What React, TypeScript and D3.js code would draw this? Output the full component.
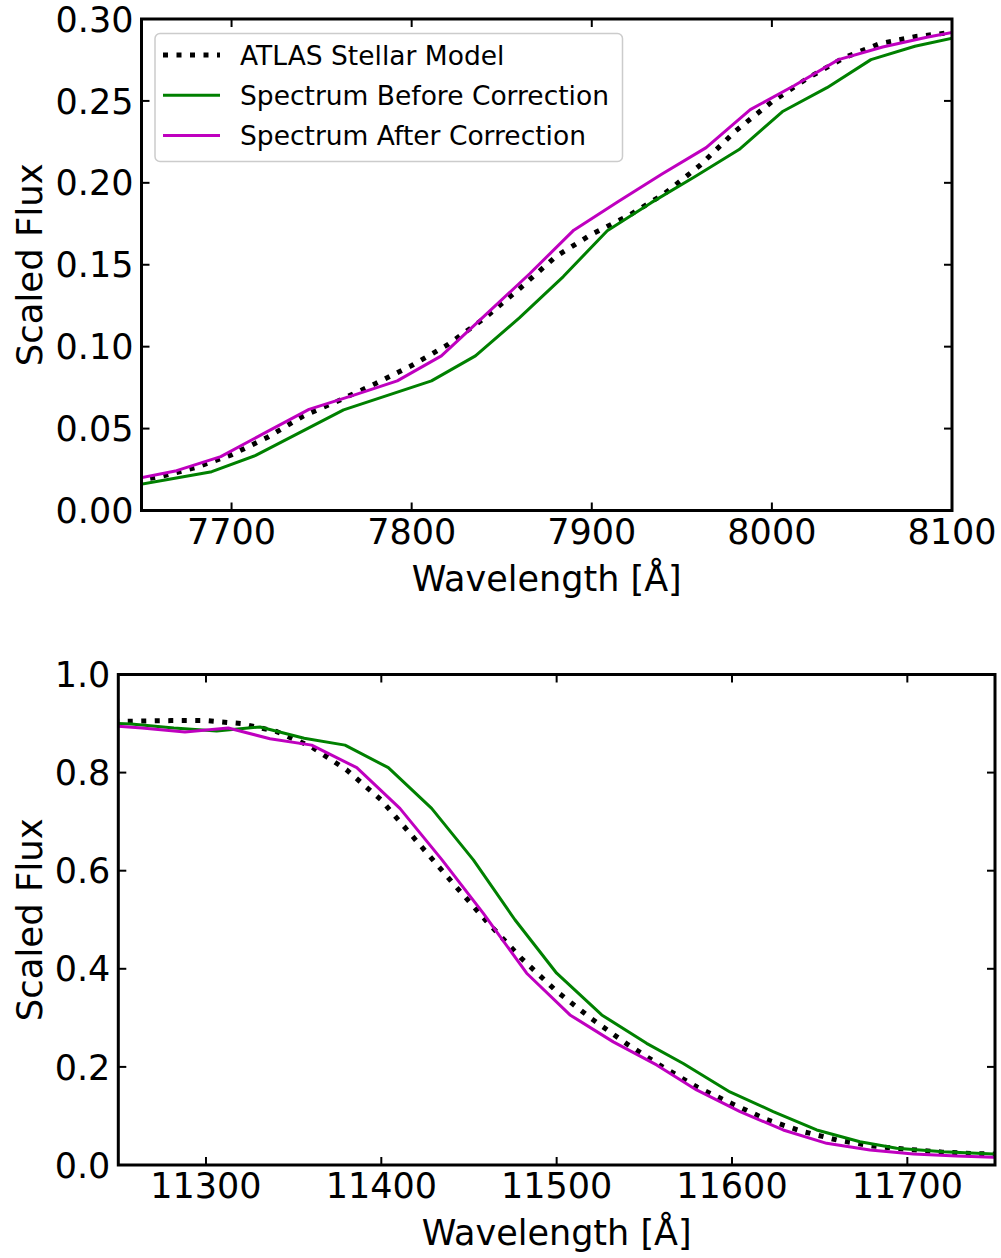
import React from "react";
import * as d3 from "d3";

// ---------- Top panel data ----------
const topModelWl = [7640, 7660, 7680, 7700, 7720, 7740, 7760, 7780, 7800, 7820, 7840, 7860, 7880, 7900, 7920, 7940, 7960, 7980, 8000, 8020, 8040, 8060, 8080, 8100, 8110];
const topModelFlux = [0.0170, 0.0205, 0.0262, 0.0340, 0.0447, 0.0578, 0.0673, 0.0775, 0.0885, 0.1012, 0.1170, 0.1355, 0.1550, 0.1687, 0.1797, 0.1931, 0.2106, 0.2318, 0.2495, 0.2640, 0.2763, 0.2850, 0.2893, 0.2918, 0.2925];

const topBeforeWl = [7640.2, 7664.6, 7689.0, 7713.4, 7737.8, 7762.2, 7786.6, 7811.0, 7835.4, 7859.8, 7884.2, 7908.6, 7933.0, 7957.4, 7981.8, 8006.2, 8030.6, 8055.0, 8079.4, 8103.8];
const topBeforeFlux = [0.0142, 0.0189, 0.0237, 0.0336, 0.0475, 0.0614, 0.0703, 0.0791, 0.0944, 0.1176, 0.1428, 0.1708, 0.1879, 0.2039, 0.2203, 0.2437, 0.2581, 0.2752, 0.2834, 0.2891];

const topAfterWl = [7645.0, 7669.5, 7694.0, 7718.5, 7743.0, 7767.5, 7792.0, 7816.5, 7841.0, 7865.5, 7890.0, 7914.5, 7939.0, 7963.5, 7988.0, 8012.5, 8037.0, 8061.5, 8086.0, 8110.5];
const topAfterFlux = [0.0189, 0.0243, 0.0329, 0.0474, 0.0617, 0.0703, 0.0791, 0.0944, 0.1194, 0.1445, 0.1711, 0.1885, 0.2054, 0.2215, 0.2447, 0.2594, 0.2752, 0.2829, 0.2889, 0.2939];

const topXTicks = [7700, 7800, 7900, 8000, 8100];
const topYTicks = [0, 0.05, 0.1, 0.15, 0.2, 0.25, 0.3];

// ---------- Bottom panel data ----------
const botModelWl = [11240, 11260, 11280, 11300, 11320, 11340, 11360, 11380, 11400, 11420, 11440, 11460, 11480, 11500, 11520, 11540, 11560, 11580, 11600, 11620, 11640, 11660, 11680, 11700, 11720, 11740, 11760];
const botModelFlux = [0.904, 0.905, 0.906, 0.906, 0.900, 0.884, 0.853, 0.806, 0.744, 0.661, 0.578, 0.497, 0.421, 0.354, 0.298, 0.247, 0.201, 0.159, 0.125, 0.0923, 0.0685, 0.0508, 0.0389, 0.0319, 0.0262, 0.0231, 0.021];

const botBeforeWl = [11232.7, 11257.3, 11281.7, 11306.1, 11330.8, 11356.0, 11379.3, 11404.0, 11428.7, 11452.5, 11476.2, 11500.0, 11525.7, 11551.3, 11572.2, 11598.8, 11623.5, 11648.3, 11673.0, 11693.9, 11720.5, 11749.0, 11773.6];
const botBeforeFlux = [0.902, 0.899, 0.891, 0.885, 0.893, 0.870, 0.856, 0.810, 0.727, 0.622, 0.500, 0.391, 0.306, 0.248, 0.207, 0.149, 0.109, 0.0714, 0.0475, 0.034, 0.027, 0.0224, 0.020];

const botAfterWl = [11239.0, 11263.5, 11288.0, 11312.7, 11336.5, 11360.3, 11386.0, 11410.6, 11434.4, 11458.2, 11482.9, 11507.6, 11532.3, 11557.0, 11579.8, 11604.6, 11629.2, 11654.0, 11678.7, 11703.4, 11728.1, 11749.0, 11773.5];
const botAfterFlux = [0.897, 0.891, 0.883, 0.891, 0.869, 0.856, 0.810, 0.727, 0.623, 0.513, 0.391, 0.306, 0.251, 0.204, 0.153, 0.109, 0.0714, 0.0442, 0.0306, 0.0224, 0.0183, 0.0157, 0.014];

const botXTicks = [11300, 11400, 11500, 11600, 11700];
const botYTicks = [0, 0.2, 0.4, 0.6, 0.8, 1.0];

const legendLabels = ["ATLAS Stellar Model", "Spectrum Before Correction", "Spectrum After Correction"];

const FONT = "DejaVu Sans, sans-serif";
const GREEN = "#008000";
const MAGENTA = "#bf00bf";

type Series = { wl: number[]; flux: number[]; color: string; width: number; dash?: string };

function Panel(props: {
  id: string;
  left: number; right: number; top: number; bottom: number;
  xDomain: [number, number]; yDomain: [number, number];
  xTicks: number[]; yTicks: number[]; yFmt: string;
  series: Series[];
  legend?: boolean;
}) {
  const { id, left, right, top, bottom, xDomain, yDomain, xTicks, yTicks, yFmt, series, legend } = props;
  const x = d3.scaleLinear().domain(xDomain).range([left, right]);
  const y = d3.scaleLinear().domain(yDomain).range([bottom, top]);
  const fmtY = d3.format(yFmt);
  const tickLen = 8;
  const fs = 35;
  return (
    <g>
      <defs>
        <clipPath id={id}>
          <rect x={left} y={top} width={right - left} height={bottom - top} />
        </clipPath>
      </defs>
      <g clipPath={`url(#${id})`}>
        {series.map((s, i) => {
          const pts: [number, number][] = s.wl.map((w, j) => [w, s.flux[j]]);
          const line = d3.line<[number, number]>().x(d => x(d[0])).y(d => y(d[1]));
          return (
            <path key={i} d={line(pts) || ""} fill="none" stroke={s.color} strokeWidth={s.width}
              strokeDasharray={s.dash} strokeLinejoin="round" />
          );
        })}
      </g>
      {xTicks.map(t => (
        <g key={"xt" + t}>
          <line x1={x(t)} x2={x(t)} y1={bottom} y2={bottom - tickLen} stroke="#000" strokeWidth={2} />
          <line x1={x(t)} x2={x(t)} y1={top} y2={top + tickLen} stroke="#000" strokeWidth={2} />
          <text x={x(t)} y={bottom + 33} textAnchor="middle" fontFamily={FONT} fontSize={fs}>{t}</text>
        </g>
      ))}
      {yTicks.map(t => (
        <g key={"yt" + t}>
          <line x1={left} x2={left + tickLen} y1={y(t)} y2={y(t)} stroke="#000" strokeWidth={2} />
          <line x1={right} x2={right - tickLen} y1={y(t)} y2={y(t)} stroke="#000" strokeWidth={2} />
          <text x={left - 8} y={y(t)} dy="0.36em" textAnchor="end" fontFamily={FONT} fontSize={fs}>{fmtY(t)}</text>
        </g>
      ))}
      <rect x={left} y={top} width={right - left} height={bottom - top} fill="none" stroke="#000" strokeWidth={3} />
      <text x={(left + right) / 2} y={bottom + 80} textAnchor="middle" fontFamily={FONT} fontSize={fs}>Wavelength [Å]</text>
      <text transform={`translate(42,${(top + bottom) / 2}) rotate(-90)`} textAnchor="middle" fontFamily={FONT} fontSize={35.5}>Scaled Flux</text>
      {legend && (
        <g>
          <rect x={155} y={33.5} width={467.5} height={128} rx={5} fill="#fff" fillOpacity={0.8} stroke="#cccccc" strokeWidth={1.5} />
          {series.map((s, i) => {
            const cy = 55 + i * 40.3;
            return (
              <g key={"lg" + i}>
                <line x1={163} x2={220} y1={cy} y2={cy} stroke={s.color} strokeWidth={s.width} strokeDasharray={s.dash} />
                <text x={240} y={cy} dy="0.36em" fontFamily={FONT} fontSize={26.5}>{legendLabels[i]}</text>
              </g>
            );
          })}
        </g>
      )}
    </g>
  );
}

export default function App() {
  const dotted = "5 8.5";
  const topSeries: Series[] = [
    { wl: topModelWl, flux: topModelFlux, color: "#000", width: 5, dash: dotted },
    { wl: topBeforeWl, flux: topBeforeFlux, color: GREEN, width: 3 },
    { wl: topAfterWl, flux: topAfterFlux, color: MAGENTA, width: 3 },
  ];
  const botSeries: Series[] = [
    { wl: botModelWl, flux: botModelFlux, color: "#000", width: 5, dash: dotted },
    { wl: botBeforeWl, flux: botBeforeFlux, color: GREEN, width: 3 },
    { wl: botAfterWl, flux: botAfterFlux, color: MAGENTA, width: 3 },
  ];
  return (
    <svg width={1001} height={1258} style={{ position: "absolute", left: 0, top: 0, background: "#fff" }}>
      <rect x={0} y={0} width={1001} height={1258} fill="#fff" />
      <Panel id="clipTop" left={141.5} right={952} top={19} bottom={510.5}
        xDomain={[7650, 8100]} yDomain={[0, 0.3]} xTicks={topXTicks} yTicks={topYTicks} yFmt=".2f"
        series={topSeries} legend />
      <Panel id="clipBot" left={118.3} right={995} top={674.5} bottom={1165}
        xDomain={[11250, 11750]} yDomain={[0, 1.0]} xTicks={botXTicks} yTicks={botYTicks} yFmt=".1f"
        series={botSeries} />
    </svg>
  );
}
